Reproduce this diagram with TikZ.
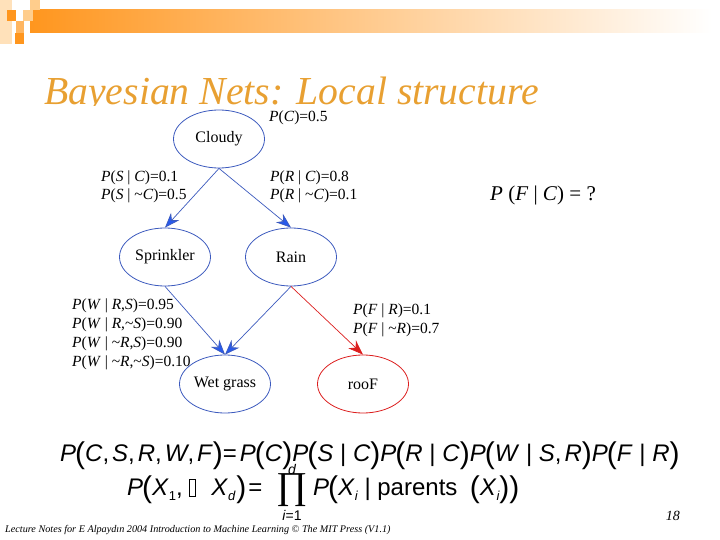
\documentclass[tikz,border=0pt]{standalone}
\usepackage{fontspec}
\setmainfont{Liberation Serif}
\newfontfamily\arialf{Liberation Sans}
\usetikzlibrary{arrows.meta,shapes.geometric}
\definecolor{titleor}{RGB}{232,160,50}
\definecolor{nodeblue}{RGB}{60,90,190}
\definecolor{arrblue}{RGB}{40,90,235}
\definecolor{roofred}{RGB}{220,30,30}
\definecolor{barorange}{RGB}{255,150,30}
\definecolor{barmid}{RGB}{255,205,165}
\definecolor{sqlight}{RGB}{255,205,140}
\newcommand\vi[1]{\textit{#1}}
\newcommand\lpar{\kern-1pt\raisebox{-2.5pt}{\fontsize{30}{30}\selectfont\upshape(}}
\newcommand\rpar{\raisebox{-2.5pt}{\fontsize{30}{30}\selectfont\upshape)}}
\newcommand\subx[1]{\raisebox{-5pt}{\fontsize{13}{13}\selectfont #1}}
\newcommand\missbox{\tikz[baseline=0pt]\draw[line width=0.6pt] (0,-1pt) rectangle (6pt,16pt);}
\begin{document}
\begin{tikzpicture}[x=1pt,y=-1pt,
  netnode/.style={ellipse, draw=nodeblue, line width=0.8pt, minimum width=91pt, minimum height=58pt, inner sep=0pt, font=\fontsize{16}{18}\selectfont},
  rednode/.style={netnode, draw=roofred},
  cpt/.style={anchor=base west, inner sep=0pt, font=\fontsize{15.5}{17}\selectfont},
  netarrow/.style={draw=nodeblue, line width=0.7pt, -{Stealth[length=15pt,width=11pt,fill=arrblue]}},
  redarrow/.style={draw=roofred, line width=0.7pt, -{Stealth[length=15pt,width=11pt,fill=roofred]}},
  formula/.style={anchor=base west, inner sep=0pt, font=\arialf\fontsize{24}{28}\selectfont}
]
\useasboundingbox (0,0) rectangle (720,540);
% top decoration
\shade[left color=barorange, middle color=barmid, right color=white] (30,10) rectangle (712,33);
\fill[sqlight, opacity=0.6] (0,0) rectangle (12,44);
\fill[sqlight] (30,0) rectangle (40,10);
\fill[sqlight] (23,10) rectangle (33,21);
\fill[barorange] (7,10) rectangle (16,21);
\fill[barorange!70] (16,21) rectangle (24,33);
\fill[barorange] (15,33) rectangle (24,44);
% title
\node[anchor=base west, inner sep=0pt, text=titleor, font=\fontsize{39.7}{44}\selectfont\itshape] (title) at (44,105) {\raisebox{0pt}[\height][0pt]{Bayesian Nets: Local structure}};
% white background of the network picture
\fill[white] (68,106) rectangle (445,416);
% nodes
\node[netnode] (cloudy) at (219,139) {Cloudy};
\node[netnode] (sprinkler) at (165,257) {Sprinkler};
\node[netnode] (rain) at (291,257) {Rain};
\node[netnode] (wet) at (225,384) {Wet grass};
\node[rednode] (roof) at (363,384) {rooF};
% arrows
\draw[netarrow] (cloudy.south) -- (sprinkler.north);
\draw[netarrow] (cloudy.south) -- (rain.north);
\draw[netarrow] (sprinkler.south) -- (wet.north);
\draw[netarrow] (rain.south) -- (wet.north);
\draw[redarrow] (rain.south) -- (roof.north);
% CPT labels
\node[cpt] (pc) at (269,122) {\vi{P}(\vi{C})=0.5};
\node[cpt] (ps1) at (101,182) {\vi{P}(\vi{S} | \vi{C})=0.1};
\node[cpt] (ps2) at (101,200) {\vi{P}(\vi{S} | \textasciitilde\vi{C})=0.5};
\node[cpt] (pr1) at (270,182) {\vi{P}(\vi{R} | \vi{C})=0.8};
\node[cpt] (pr2) at (270,200) {\vi{P}(\vi{R} | \textasciitilde\vi{C})=0.1};
\node[cpt] (pw1) at (72,309) {\vi{P}(\vi{W} | \vi{R},\vi{S})=0.95};
\node[cpt] (pw2) at (72,328) {\vi{P}(\vi{W} | \vi{R},\textasciitilde\vi{S})=0.90};
\node[cpt] (pw3) at (72,347) {\vi{P}(\vi{W} | \textasciitilde\vi{R},\vi{S})=0.90};
\node[cpt] (pw4) at (72,366) {\vi{P}(\vi{W} | \textasciitilde\vi{R},\textasciitilde\vi{S})=0.10};
\node[cpt] (pf1) at (353,314) {\vi{P}(\vi{F} | \vi{R})=0.1};
\node[cpt] (pf2) at (353,333) {\vi{P}(\vi{F} | \textasciitilde\vi{R})=0.7};
% question
\node[anchor=base west, inner sep=0pt, font=\fontsize{21}{24}\selectfont] (q) at (490,201) {\vi{P} (\vi{F} | \vi{C}) = ?};
% formulas
\node[formula] (f1) at (60,461) {\vi{P}\lpar\vi{C},\kern3pt\vi{S},\kern3pt\vi{R},\kern3pt\vi{W},\kern3pt\vi{F}\rpar=\kern3pt\vi{P}\lpar\vi{C}\rpar\vi{P}\lpar\vi{S} | \vi{C}\rpar\vi{P}\lpar\vi{R} | \vi{C}\rpar\vi{P}\lpar\vi{W} | \vi{S},\kern3pt\vi{R}\rpar\vi{P}\lpar\vi{F} | \vi{R}\rpar};
\node[formula] (f2a) at (127,495) {\vi{P}\lpar\vi{X}\subx{1},\kern6pt\missbox\kern16pt\vi{X}\subx{\itshape d}\kern1pt\rpar\kern2pt=};
\node[anchor=base, inner sep=0pt, font=\fontsize{38}{38}\selectfont] (prod) at (292,498) {\raisebox{0pt}[27pt][8pt]{∏}};
\node[anchor=center, inner sep=0pt, font=\arialf\itshape\fontsize{14}{14}\selectfont] (dsup) at (292,469) {d};
\node[anchor=center, inner sep=0pt, font=\arialf\fontsize{14}{14}\selectfont] (isub) at (292,515) {\vi{i}=1};
\node[formula] (f2b) at (313,495) {\vi{P}\lpar\vi{X}\subx{\itshape i} | parents \ \lpar\vi{X}\subx{\itshape i}\rpar\rpar};
% footer
\node[anchor=base east, inner sep=0pt, font=\fontsize{14}{16}\selectfont\itshape] (pagenum) at (680,520) {18};
\node[anchor=base west, inner sep=0pt, font=\fontsize{10.2}{12}\selectfont\itshape] (footer) at (5,532) {Lecture Notes for E Alpaydın 2004 Introduction to Machine Learning © The MIT Press (V1.1)};
\end{tikzpicture}
\end{document}
